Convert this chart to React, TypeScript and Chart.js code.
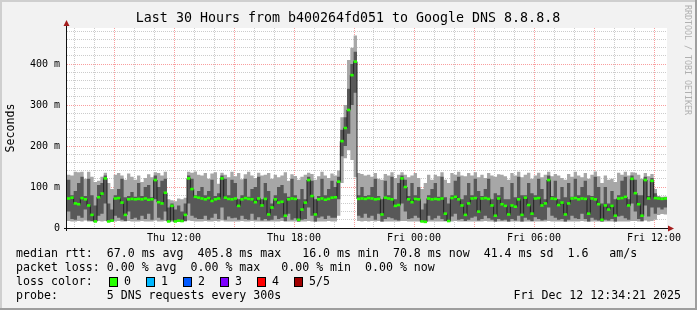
import React, { useEffect, useRef } from 'react';
import { Chart, registerables } from 'chart.js';

Chart.register(...registerables);

const W = 697;
const H = 310;
const FONT = '"DejaVu Sans Mono", monospace';

// Time axis: hours since Thu 00:00; 10-minute consolidated steps
const START_HOUR = 6.65; // Thu 06:39
const SPAN_HOURS = 30;
const STEP_HOURS = 1 / 6;

// median RTT (ms) per step
const medianRtt = [
  72, 74, 60, 58, 73, 70, 55, 32, 16, 75,
  84, 121, 16, 18, 72, 73, 62, 32, 70, 71,
  70, 71, 70, 72, 69, 70, 117, 63, 60, 86,
  16, 54, 16, 18, 17, 32, 121, 95, 76, 74,
  72, 70, 73, 66, 70, 72, 121, 74, 71, 70,
  72, 54, 70, 73, 71, 70, 63, 72, 55, 71,
  33, 50, 70, 62, 64, 30, 70, 72, 71, 20,
  45, 62, 117, 78, 33, 70, 72, 69, 71, 74,
  75, 113, 212, 244, 288, 373, 406, 71, 72, 71,
  73, 72, 70, 71, 33, 74, 72, 70, 54, 56,
  121, 100, 70, 63, 71, 70, 16, 15, 72, 70,
  71, 70, 72, 35, 17, 73, 76, 70, 55, 32,
  60, 72, 73, 40, 72, 73, 71, 55, 30, 72,
  58, 54, 33, 55, 52, 70, 32, 74, 56, 35,
  72, 73, 55, 60, 117, 72, 71, 56, 62, 33,
  60, 72, 73, 70, 72, 71, 35, 72, 70, 58,
  20, 55, 45, 54, 30, 72, 73, 76, 55, 120,
  85, 58, 30, 117, 72, 115, 73, 72, 71, 72,
];

// slowest ping (ms)
const ping5 = [
  130, 128, 137, 136, 137, 120, 137, 125, 112, 115,
  125, 135, 110, 95, 130, 134, 128, 118, 133, 125,
  118, 128, 112, 122, 131, 124, 136, 134, 128, 137,
  70, 68, 65, 72, 70, 74, 137, 135, 138, 130,
  128, 134, 120, 133, 136, 108, 135, 130, 124, 137,
  126, 134, 119, 131, 137, 128, 122, 135, 128, 130,
  134, 120, 130, 124, 128, 136, 115, 131, 127, 118,
  125, 130, 135, 132, 118, 126, 137, 128, 122, 133,
  128, 140, 270, 300, 410, 440, 470, 134, 132, 128,
  130, 125, 134, 120, 118, 132, 128, 136, 122, 130,
  136, 130, 124, 128, 134, 122, 95, 110, 130, 118,
  130, 126, 136, 118, 110, 134, 130, 137, 128, 126,
  134, 128, 136, 124, 130, 122, 134, 128, 125, 131,
  130, 126, 118, 134, 128, 137, 124, 130, 135, 120,
  128, 135, 124, 130, 137, 126, 132, 128, 122, 118,
  132, 125, 137, 128, 124, 134, 120, 130, 138, 126,
  110, 128, 118, 120, 112, 135, 130, 137, 128, 136,
  135, 130, 120, 134, 126, 132, 95, 78, 76, 77,
];

// 4th ping (ms)
const ping4 = [
  118, 80, 90, 110, 125, 78, 120, 80, 55, 105,
  110, 128, 60, 45, 80, 95, 120, 75, 78, 88,
  76, 110, 78, 100, 105, 75, 128, 100, 115, 120,
  50, 60, 45, 55, 40, 60, 128, 120, 80, 90,
  100, 80, 90, 118, 78, 85, 128, 120, 80, 118,
  110, 70, 80, 120, 76, 95, 100, 125, 70, 110,
  90, 60, 80, 100, 105, 85, 76, 120, 80, 70,
  95, 70, 125, 115, 70, 78, 120, 80, 95, 115,
  100, 125, 240, 270, 340, 400, 430, 80, 100, 78,
  80, 100, 120, 78, 70, 115, 80, 125, 70, 110,
  128, 118, 78, 110, 80, 100, 45, 60, 80, 95,
  110, 76, 125, 75, 60, 80, 115, 125, 70, 80,
  110, 80, 120, 90, 78, 95, 120, 70, 85, 80,
  100, 70, 70, 110, 75, 125, 80, 80, 110, 85,
  80, 120, 95, 70, 128, 78, 115, 70, 100, 75,
  110, 76, 120, 80, 100, 115, 80, 78, 125, 100,
  60, 100, 60, 90, 70, 80, 115, 125, 70, 128,
  118, 80, 80, 125, 78, 122, 85, 76, 74, 75,
];

// 2nd ping (ms)
const ping2 = [
  40, 22, 20, 30, 25, 45, 18, 17, 16, 30,
  35, 60, 16, 16, 30, 25, 20, 17, 40, 22,
  25, 20, 30, 22, 35, 20, 70, 25, 20, 40,
  16, 18, 16, 16, 15, 17, 60, 30, 25, 22,
  22, 30, 20, 25, 35, 22, 50, 20, 28, 24,
  25, 20, 30, 22, 20, 35, 20, 26, 18, 22,
  18, 20, 30, 22, 25, 17, 35, 20, 24, 16,
  20, 22, 50, 30, 16, 25, 28, 22, 30, 25,
  25, 70, 175, 200, 230, 300, 330, 30, 25, 35,
  25, 30, 20, 35, 16, 22, 26, 24, 20, 18,
  60, 40, 22, 24, 30, 25, 16, 15, 30, 20,
  24, 30, 22, 17, 16, 28, 35, 20, 22, 17,
  20, 25, 28, 18, 22, 30, 24, 20, 16, 22,
  18, 20, 16, 22, 18, 30, 16, 25, 20, 17,
  26, 22, 18, 20, 50, 30, 25, 20, 22, 16,
  20, 30, 24, 22, 35, 22, 16, 25, 20, 18,
  16, 20, 18, 22, 16, 28, 30, 24, 20, 60,
  40, 22, 17, 55, 28, 50, 35, 50, 45, 50,
];

// fastest ping (ms)
const ping1 = [
  17, 16, 16, 17, 16, 18, 16, 16, 15, 17,
  16, 17, 15, 15, 16, 17, 16, 16, 17, 16,
  16, 16, 17, 16, 16, 16, 18, 16, 16, 17,
  15, 15, 15, 15, 15, 16, 18, 17, 16, 16,
  16, 17, 16, 16, 17, 16, 18, 16, 16, 16,
  16, 16, 17, 16, 16, 17, 16, 16, 16, 16,
  16, 16, 16, 16, 17, 15, 16, 16, 16, 15,
  16, 16, 17, 16, 15, 16, 16, 16, 17, 16,
  16, 30, 110, 170, 190, 166, 124, 17, 16, 17,
  16, 17, 16, 17, 15, 16, 16, 16, 16, 16,
  17, 17, 16, 16, 16, 16, 15, 15, 16, 16,
  16, 16, 16, 16, 15, 16, 17, 16, 16, 16,
  16, 16, 16, 16, 16, 17, 16, 16, 15, 16,
  16, 16, 15, 16, 16, 16, 15, 16, 16, 15,
  16, 16, 16, 16, 17, 16, 16, 16, 16, 15,
  16, 16, 16, 16, 17, 16, 15, 16, 16, 16,
  15, 16, 16, 16, 15, 16, 16, 16, 16, 17,
  17, 16, 15, 18, 16, 17, 20, 32, 34, 33,
];

const Y_MAX = 488;
const Y_MINOR_STEP = 20;
const yLabelValues = [0, 100, 200, 300, 400];
const yLabelTexts = ['0', '100 m', '200 m', '300 m', '400 m'];
const xLabelHours = [12, 18, 24, 30, 36];
const xLabelTexts = ['Thu 12:00', 'Thu 18:00', 'Fri 00:00', 'Fri 06:00', 'Fri 12:00'];

const titleText = 'Last 30 Hours from b400264fd051 to Google DNS 8.8.8.8';
const yAxisTitle = 'Seconds';
const sideText = 'RRDTOOL / TOBI OETIKER';
const legendRtt = 'median rtt:  67.0 ms avg  405.8 ms max   16.0 ms min  70.8 ms now  41.4 ms sd  1.6   am/s';
const legendLoss = 'packet loss: 0.00 % avg  0.00 % max   0.00 % min  0.00 % now';
const legendLossColor = 'loss color:';
const lossLabels = ['0', '1', '2', '3', '4', '5/5'];
const lossColors = ['#26ff00', '#00b8ff', '#0059ff', '#7e00ff', '#ff0000', '#a10000'];
const legendProbe = 'probe:       5 DNS requests every 300s';
const dateText = 'Fri Dec 12 12:34:21 2025';

const BACK = '#f2f2f2';
const SHADEA = '#cfcfcf';
const SHADEB = '#9e9e9e';
const GRID = 'rgba(143,143,143,0.45)';
const MGRID = 'rgba(240,0,0,0.38)';
const ARROW = '#a41d1d';
const SMOKE_OUTER = '#a7a7a7';
const SMOKE_INNER = '#585858';
const MEDIAN_LINE = '#202020';

function stepPoints(arr: number[]) {
  const pts = arr.map((v, k) => ({ x: START_HOUR + k * STEP_HOURS, y: v }));
  pts.push({ x: START_HOUR + arr.length * STEP_HOURS, y: arr[arr.length - 1] });
  return pts;
}
function midPoints(arr: number[]) {
  return arr.map((v, k) => ({ x: START_HOUR + (k + 0.5) * STEP_HOURS, y: v }));
}

const decorPlugin = {
  id: 'rrdDecor',
  beforeDraw(chart: any) {
    const { ctx, chartArea: a } = chart;
    ctx.save();
    ctx.fillStyle = BACK;
    ctx.fillRect(0, 0, W, H);
    ctx.fillStyle = SHADEA;
    ctx.fillRect(0, 0, W, 2);
    ctx.fillRect(0, 0, 2, H);
    ctx.fillStyle = SHADEB;
    ctx.fillRect(0, H - 2, W, 2);
    ctx.fillRect(W - 2, 0, 2, H);
    ctx.fillStyle = '#ffffff';
    ctx.fillRect(a.left, a.top, a.right - a.left, a.bottom - a.top);
    ctx.restore();
  },
  afterDatasetsDraw(chart: any) {
    const { ctx, chartArea: a } = chart;
    ctx.save();
    ctx.strokeStyle = '#101010';
    ctx.lineWidth = 1;
    ctx.beginPath();
    ctx.moveTo(a.left - 3, a.bottom + 0.5);
    ctx.lineTo(a.right + 2, a.bottom + 0.5);
    ctx.moveTo(a.left - 0.5, a.bottom + 3);
    ctx.lineTo(a.left - 0.5, a.top - 3);
    ctx.stroke();
    ctx.fillStyle = ARROW;
    ctx.beginPath();
    ctx.moveTo(a.right + 1, a.bottom - 2.5);
    ctx.lineTo(a.right + 1, a.bottom + 3.5);
    ctx.lineTo(a.right + 7, a.bottom + 0.5);
    ctx.closePath();
    ctx.fill();
    ctx.beginPath();
    ctx.moveTo(a.left - 3.5, a.top - 2);
    ctx.lineTo(a.left + 2.5, a.top - 2);
    ctx.lineTo(a.left - 0.5, a.top - 8);
    ctx.closePath();
    ctx.fill();
    ctx.restore();
  },
  afterDraw(chart: any) {
    const { ctx, chartArea: a } = chart;
    ctx.save();
    ctx.fillStyle = '#000';
    ctx.textBaseline = 'middle';
    // title
    ctx.font = `13.3px ${FONT}`;
    ctx.textAlign = 'center';
    ctx.fillText(titleText, 348, 19);
    // y axis title
    ctx.font = `11.6px ${FONT}`;
    ctx.save();
    ctx.translate(11, (a.top + a.bottom) / 2);
    ctx.rotate(-Math.PI / 2);
    ctx.fillText(yAxisTitle, 0, 0);
    ctx.restore();
    // side watermark
    ctx.save();
    ctx.fillStyle = '#b0b0b0';
    ctx.font = `8.3px ${FONT}`;
    ctx.translate(687, 5);
    ctx.rotate(Math.PI / 2);
    ctx.textAlign = 'left';
    ctx.fillText(sideText, 0, 0);
    ctx.restore();
    // legend
    ctx.font = `11.6px ${FONT}`;
    ctx.textAlign = 'left';
    const x0 = 16;
    ctx.fillText(legendRtt, x0, 254);
    ctx.fillText(legendLoss, x0, 268);
    ctx.fillText(legendLossColor, x0, 282);
    for (let i = 0; i < lossLabels.length; i++) {
      const bx = 109 + i * 37;
      ctx.fillStyle = lossColors[i];
      ctx.fillRect(bx, 277, 8, 9);
      ctx.strokeStyle = '#000';
      ctx.lineWidth = 1;
      ctx.strokeRect(bx + 0.5, 277.5, 8, 9);
      ctx.fillStyle = '#000';
      ctx.fillText(lossLabels[i], bx + 15, 282);
    }
    ctx.fillText(legendProbe, x0, 296);
    ctx.textAlign = 'right';
    ctx.fillText(dateText, 681, 296);
    ctx.restore();
  },
};

export default function App() {
  const ref = useRef<HTMLCanvasElement | null>(null);

  useEffect(() => {
    document.body.style.margin = '0';
    const canvas = ref.current;
    if (!canvas) return;
    const hidden = { borderColor: 'rgba(0,0,0,0)', borderWidth: 0, pointRadius: 0, pointHoverRadius: 0 };
    const chart = new Chart(canvas, {
      type: 'line',
      data: {
        datasets: [
          {
            data: midPoints(medianRtt),
            showLine: false,
            pointStyle: 'line',
            pointRadius: 1.7,
            pointHoverRadius: 1.7,
            pointBorderWidth: 2.6,
            pointBorderColor: lossColors[0],
            pointBackgroundColor: lossColors[0],
            fill: false,
          } as any,
          {
            data: stepPoints(medianRtt),
            stepped: 'before',
            borderColor: MEDIAN_LINE,
            borderWidth: 1,
            pointRadius: 0,
            pointHoverRadius: 0,
            fill: false,
          },
          { data: stepPoints(ping4), stepped: 'before', ...hidden, backgroundColor: SMOKE_INNER, fill: '+1' },
          { data: stepPoints(ping2), stepped: 'before', ...hidden, fill: false },
          { data: stepPoints(ping5), stepped: 'before', ...hidden, backgroundColor: SMOKE_OUTER, fill: '+1' },
          { data: stepPoints(ping1), stepped: 'before', ...hidden, fill: false },
        ] as any,
      },
      options: {
        animation: false,
        responsive: false,
        maintainAspectRatio: false,
        devicePixelRatio: 1,
        events: [],
        layout: { padding: { left: 0, top: 28, right: W - 667, bottom: 0 } },
        plugins: { legend: { display: false }, tooltip: { enabled: false }, title: { display: false } },
        scales: {
          x: {
            type: 'linear',
            min: START_HOUR,
            max: START_HOUR + SPAN_HOURS,
            afterBuildTicks: (s: any) => {
              const t: any[] = [];
              for (let h = Math.ceil(START_HOUR); h <= START_HOUR + SPAN_HOURS; h++) t.push({ value: h });
              s.ticks = t;
            },
            afterFit: (s: any) => {
              s.height = H - 228;
            },
            ticks: {
              autoSkip: false,
              maxRotation: 0,
              minRotation: 0,
              padding: 4,
              color: '#000',
              font: { family: FONT, size: 10 },
              callback: (v: any) => {
                const i = xLabelHours.indexOf(Math.round(Number(v) * 1000) / 1000);
                return i >= 0 ? xLabelTexts[i] : '';
              },
            },
            grid: {
              drawTicks: false,
              lineWidth: 1,
              color: (c: any) => (c.tick && Math.round(c.tick.value) % 3 === 0 ? MGRID : GRID),
            },
            border: { display: false, dash: [1, 1] },
          },
          y: {
            type: 'linear',
            min: 0,
            max: Y_MAX,
            afterBuildTicks: (s: any) => {
              const t: any[] = [];
              for (let v = 0; v <= Y_MAX; v += Y_MINOR_STEP) t.push({ value: v });
              s.ticks = t;
            },
            afterFit: (s: any) => {
              s.width = 67;
            },
            ticks: {
              autoSkip: false,
              padding: 7,
              color: '#000',
              font: { family: FONT, size: 10 },
              callback: (v: any) => {
                const i = yLabelValues.indexOf(Number(v));
                return i >= 0 ? yLabelTexts[i] : '';
              },
            },
            grid: {
              drawTicks: false,
              lineWidth: 1,
              color: (c: any) => (c.tick && c.tick.value % 100 === 0 ? MGRID : GRID),
            },
            border: { display: false, dash: [1, 1] },
          },
        },
      } as any,
      plugins: [decorPlugin],
    });
    return () => chart.destroy();
  }, []);

  return (
    <canvas
      ref={ref}
      width={W}
      height={H}
      style={{ display: 'block', width: W, height: H }}
    />
  );
}
